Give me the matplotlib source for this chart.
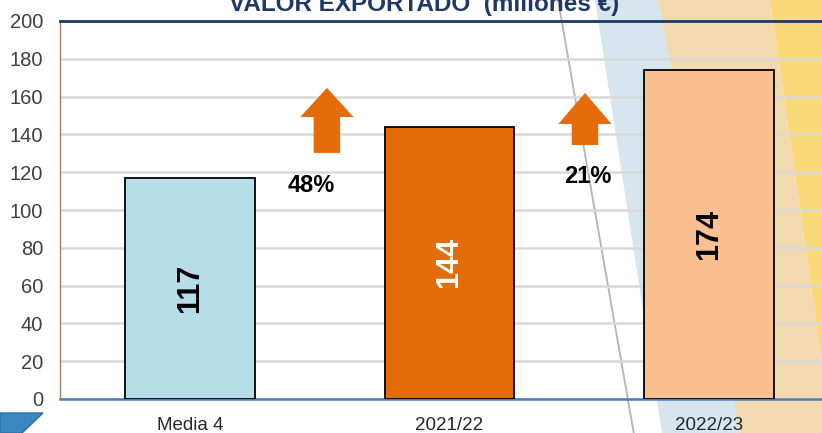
import matplotlib
matplotlib.use('Agg')
import matplotlib.pyplot as plt
from matplotlib.patches import Polygon, FancyArrow
from matplotlib.lines import Line2D

plt.rcParams['font.family'] = ['Liberation Sans', 'DejaVu Sans']

# data
categories = ['Media 4', '2021/22', '2022/23']
values = [117, 144, 174]
growth_labels = ['48%', '21%']

bar_colors = ['#b7dde8', '#e46c0a', '#fac090']
value_colors = ['black', 'white', 'black']

W, H = 822, 433
fig = plt.figure(figsize=(W / 100, H / 100), dpi=100)


def px(x, y):
    # pixel coords (y down) -> figure fraction
    return (x / W, 1 - y / H)


# background diagonal stripes
stripes = [
    ([(595, 0), (658, 0), (740, 433), (662, 433)], '#d7e6ee'),
    ([(658, 0), (770, 0), (832, 433), (740, 433)], '#f2d9b0'),
    ([(770, 0), (822, 0), (822, 433), (832, 433)], '#f9d978'),
]
for pts, col in stripes:
    fig.patches.append(Polygon([px(*p) for p in pts], closed=True, transform=fig.transFigure,
                               facecolor=col, edgecolor='none', zorder=-2))

fig.lines.append(Line2D([558 / W, 635 / W], [1, 1 - 440 / H], transform=fig.transFigure,
                        color='#b4b4b4', lw=1.3, zorder=-1))

# blue corner shape bottom left
fig.patches.append(Polygon([px(0, 413), px(43, 413), px(22, 433), px(0, 433)], closed=True,
                           transform=fig.transFigure, facecolor='#3b87c2', edgecolor='#2a6ea6',
                           lw=1, zorder=-1))

ax = fig.add_axes([60 / W, 1 - 399 / H, 1 - 60 / W, 378 / H])
ax.patch.set_alpha(0)

x = list(range(len(categories)))
ax.bar(x, values, width=0.5, color=bar_colors, edgecolor='black', linewidth=1.3, zorder=3)

for xi, v, c in zip(x, values, value_colors):
    ax.text(xi, v / 2, str(v), rotation=90, ha='center', va='center', fontsize=22,
            fontweight='bold', color=c, zorder=4)

# growth arrows between bars
arrow_x = [0.528, 1.522]
arrow_base = [130.2, 134.4]
arrow_tip = [164.6, 161.9]
head_len = [15.4, 16.4]
label_x = [0.466, 1.534]
label_y = [113.2, 117.7]
for ax_, b, t, hl, lab, lx, ly in zip(arrow_x, arrow_base, arrow_tip, head_len,
                                      growth_labels, label_x, label_y):
    ax.add_patch(FancyArrow(ax_, b, 0, t - b, width=0.102, head_width=0.205, head_length=hl,
                            length_includes_head=True, color='#e46c0a', lw=0, zorder=3))
    ax.text(lx, ly, lab, ha='center', va='center', fontsize=17, fontweight='bold',
            color='black', zorder=4)

ax.set_xlim(-0.5, 2.435)
ax.set_ylim(0, 200)
ax.set_yticks(range(0, 201, 20))
ax.set_xticks(x)
ax.set_xticklabels(categories)
ax.tick_params(axis='both', length=0, labelsize=14.5, colors='#404040')
ax.tick_params(axis='x', pad=13, labelsize=13.5, labelcolor='#262626')
ax.tick_params(axis='y', pad=12)
ax.grid(axis='y', color='#d9d9d9', lw=1.8, zorder=0)
ax.set_axisbelow(True)

ax.spines['top'].set_color('#1f3864')
ax.spines['top'].set_linewidth(2)
ax.spines['left'].set_color('#a0826d')
ax.spines['left'].set_linewidth(1)
ax.spines['bottom'].set_color('#4a7ebb')
ax.spines['bottom'].set_linewidth(1.8)
ax.spines['right'].set_visible(False)

fig.text(424 / W, 1 - 10.5 / H, 'VALOR EXPORTADO  (millones \u20ac)', ha='center', va='baseline',
         fontsize=17.5, fontweight='bold', color='#1f3864')

fig.savefig('out.png', dpi=100)
